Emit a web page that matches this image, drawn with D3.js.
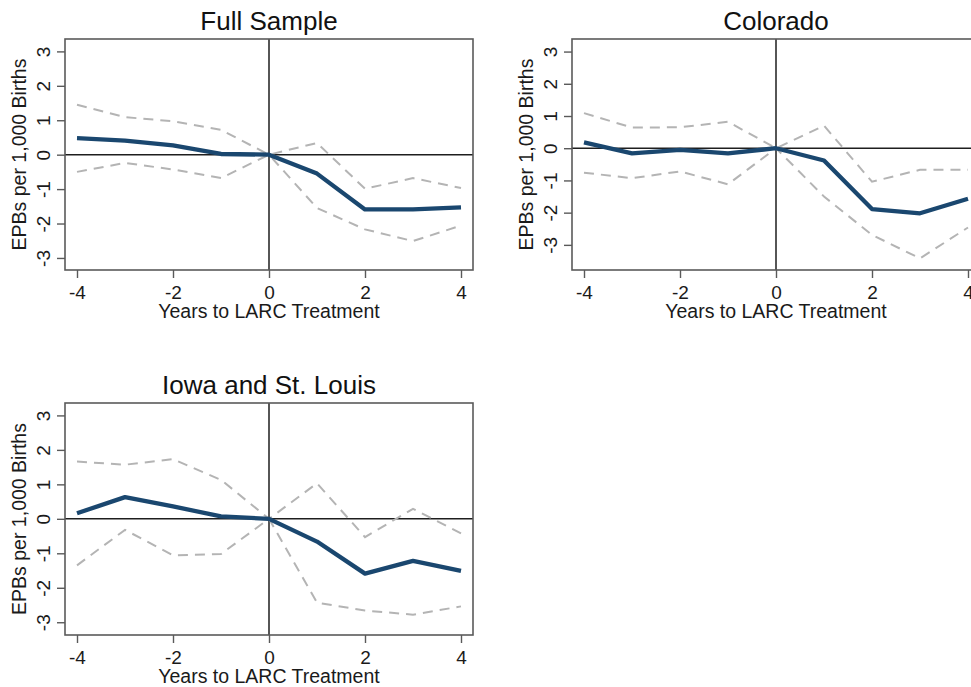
<!DOCTYPE html>
<html>
<head>
  <meta charset="utf-8">
  <title>EPBs per 1,000 Births by Years to LARC Treatment</title>
  <script src="https://cdn.jsdelivr.net/npm/d3@7/dist/d3.min.js"></script>
  <style>
    body { margin: 0; background: #fff; }
    svg { display: block; font-family: "Liberation Sans", Arial, sans-serif; }
    .frame { fill: none; stroke: #5a5a5a; stroke-width: 1.6; }
    .zero { stroke: #1e1e1e; stroke-width: 1.5; }
    .ci { fill: none; stroke: #b4b4b4; stroke-width: 2; stroke-dasharray: 10 7; }
    .est { fill: none; stroke: #1a476f; stroke-width: 4.3; stroke-linejoin: round; }
    .tick line { stroke: #5a5a5a; stroke-width: 1.4; }
    .tick text { fill: #1a1a1a; font-size: 19px; }
    .domain { display: none; }
  </style>
</head>
<body>
<script>
// years relative to treatment (x axis)
var years = [-4, -3, -2, -1, 0, 1, 2, 3, 4];
var xTicks = [-4, -2, 0, 2, 4];
var yTicks = [-3, -2, -1, 0, 1, 2, 3];

// Full Sample
var fullEst   = [0.48, 0.41, 0.27, 0.02, 0, -0.55, -1.59, -1.59, -1.53];
var fullUpper = [1.45, 1.09, 0.97, 0.72, 0, 0.34, -0.99, -0.68, -0.97];
var fullLower = [-0.50, -0.24, -0.43, -0.68, 0, -1.55, -2.17, -2.51, -2.06];

// Colorado
var coEst   = [0.18, -0.16, -0.05, -0.16, 0, -0.38, -1.89, -2.02, -1.57];
var coUpper = [1.09, 0.64, 0.65, 0.82, 0, 0.70, -1.04, -0.67, -0.67];
var coLower = [-0.76, -0.93, -0.72, -1.12, 0, -1.50, -2.69, -3.42, -2.46];

// Iowa and St. Louis
var iaEst   = [0.16, 0.63, 0.36, 0.07, 0, -0.66, -1.59, -1.22, -1.51];
var iaUpper = [1.66, 1.57, 1.73, 1.13, 0, 1.03, -0.53, 0.29, -0.42];
var iaLower = [-1.35, -0.32, -1.06, -1.02, 0, -2.43, -2.66, -2.78, -2.54];

var titles = ["Full Sample", "Colorado", "Iowa and St. Louis"];
var xLabel = "Years to LARC Treatment";
var yLabel = "EPBs per 1,000 Births";

// panel boxes (plot area) and y ranges
var panels = [
  {title: titles[0], est: fullEst, up: fullUpper, lo: fullLower, left: 65, top: 39, w: 408, h: 231, ymin: -3.35, ymax: 3.36},
  {title: titles[1], est: coEst, up: coUpper, lo: coLower, left: 572, top: 39, w: 408, h: 231, ymin: -3.78, ymax: 3.39},
  {title: titles[2], est: iaEst, up: iaUpper, lo: iaLower, left: 65, top: 403, w: 408, h: 232, ymin: -3.37, ymax: 3.36}
];

var svg = d3.select("body").append("svg")
  .attr("width", 971)
  .attr("height", 687);

panels.forEach(function(p) {
  var g = svg.append("g")
    .attr("transform", "translate(" + p.left + "," + p.top + ")");

  var x = d3.scaleLinear().domain([-4.25, 4.25]).range([0, p.w]);
  var y = d3.scaleLinear().domain([p.ymin, p.ymax]).range([p.h, 0]);

  // zero reference lines
  g.append("line").attr("class", "zero")
    .attr("x1", 0).attr("x2", p.w).attr("y1", y(0)).attr("y2", y(0));
  g.append("line").attr("class", "zero")
    .attr("x1", x(0)).attr("x2", x(0)).attr("y1", 0).attr("y2", p.h);

  var line = d3.line()
    .x(function(d, i) { return x(years[i]); })
    .y(function(d) { return y(d); });

  g.append("path").attr("class", "ci").attr("d", line(p.up));
  g.append("path").attr("class", "ci").attr("d", line(p.lo));
  g.append("path").attr("class", "est").attr("d", line(p.est));

  // x axis
  var xa = g.append("g")
    .attr("transform", "translate(0," + p.h + ")")
    .call(d3.axisBottom(x).tickValues(xTicks).tickSize(8).tickPadding(8)
      .tickFormat(function(d) { return d; }));
  xa.selectAll("text").attr("font-family", null).attr("font-size", null);

  // y axis, labels turned like Stata
  var ya = g.append("g")
    .call(d3.axisLeft(y).tickValues(yTicks).tickSize(8)
      .tickFormat(function(d) { return d; }));
  ya.selectAll("text")
    .attr("x", null).attr("dy", null)
    .attr("text-anchor", "middle")
    .attr("transform", "translate(-15,0) rotate(-90)");

  // frame
  g.append("rect").attr("class", "frame")
    .attr("x", 0).attr("y", 0).attr("width", p.w).attr("height", p.h);

  // titles
  g.append("text")
    .attr("x", p.w / 2).attr("y", -9)
    .attr("text-anchor", "middle")
    .attr("font-size", "26px")
    .attr("fill", "#111")
    .text(p.title);

  g.append("text")
    .attr("x", p.w / 2).attr("y", p.h + 48)
    .attr("text-anchor", "middle")
    .attr("font-size", "19.5px")
    .attr("fill", "#1a1a1a")
    .text(xLabel);

  g.append("text")
    .attr("text-anchor", "middle")
    .attr("transform", "translate(-39," + (p.h / 2) + ") rotate(-90)")
    .attr("font-size", "19.5px")
    .attr("fill", "#1a1a1a")
    .text(yLabel);
});
</script>
</body>
</html>
